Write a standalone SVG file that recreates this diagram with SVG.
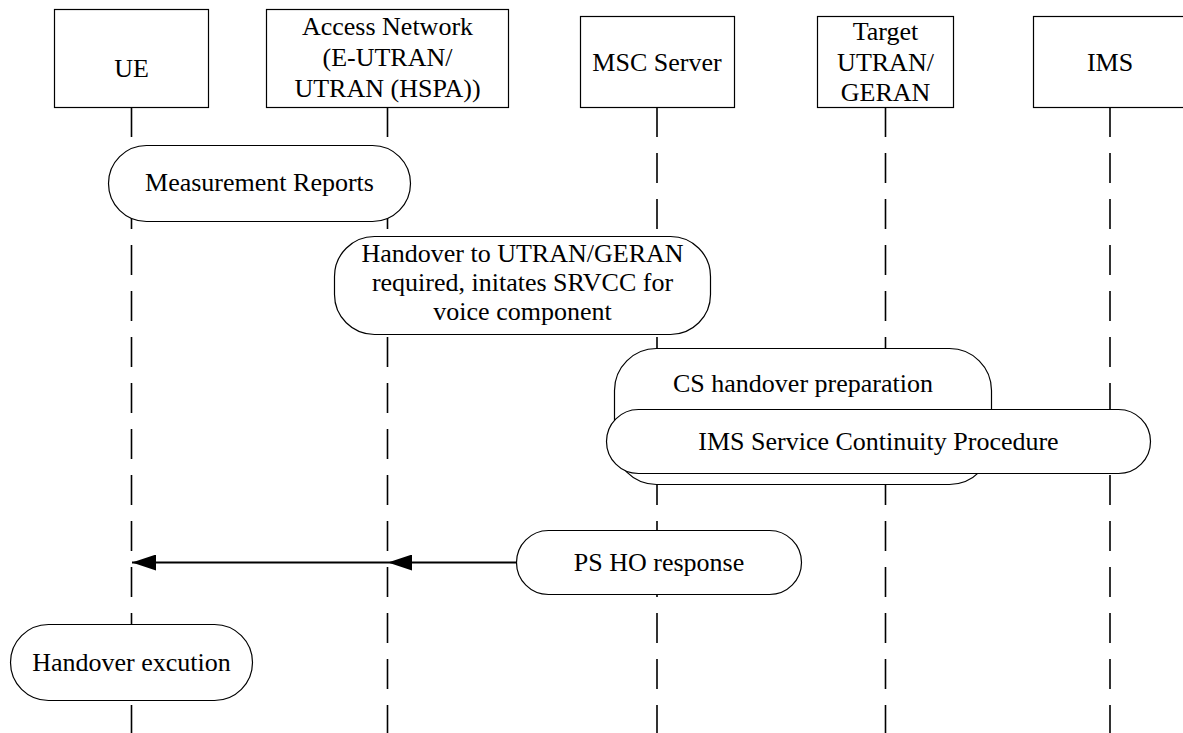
<svg xmlns="http://www.w3.org/2000/svg" width="1183" height="733" viewBox="0 0 1183 733">
  <style>
    .box { fill: #ffffff; stroke: #000000; stroke-width: 1.2; }
    .life { stroke: #000000; stroke-width: 1.6; stroke-dasharray: 30 16; fill: none; }
    .t { font-family: 'Liberation Serif', 'Tinos', 'Times New Roman', 'DejaVu Serif', serif; font-size: 26px; fill: #000000; text-anchor: middle; }
    .msg { stroke: #000000; stroke-width: 2; fill: none; }
  </style>
  <defs>
    <marker id="arrow" viewBox="0 0 24 16" refX="24" refY="8" markerWidth="24" markerHeight="16" orient="auto" markerUnits="userSpaceOnUse">
      <path d="M0,0 L24,8 L0,16 z" fill="#000000"/>
    </marker>
  </defs>
  <rect width="1183" height="733" fill="#ffffff"/>

  <g id="lifelines">
    <line class="life" x1="131.5" y1="107" x2="131.5" y2="733"/>
    <line class="life" x1="387.5" y1="107" x2="387.5" y2="733"/>
    <line class="life" x1="657" y1="107" x2="657" y2="733"/>
    <line class="life" x1="885.5" y1="107" x2="885.5" y2="733"/>
    <line class="life" x1="1110" y1="107" x2="1110" y2="733"/>
  </g>

  <g id="ue">
    <rect class="box" x="54.5" y="9.5" width="154" height="98"/>
    <text class="t" x="131.5" y="77" font-family="Liberation Serif, serif">UE</text>
  </g>
  <g id="access-network">
    <rect class="box" x="266.5" y="9.5" width="242" height="98"/>
    <text class="t" x="387.5" y="35">Access Network</text>
    <text class="t" x="387.5" y="66">(E-UTRAN/</text>
    <text class="t" x="387.5" y="97">UTRAN (HSPA))</text>
  </g>
  <g id="msc-server">
    <rect class="box" x="580.5" y="16.5" width="154" height="91"/>
    <text class="t" x="657" y="71">MSC Server</text>
  </g>
  <g id="target">
    <rect class="box" x="817.5" y="16.5" width="136" height="91"/>
    <text class="t" x="885.5" y="40">Target</text>
    <text class="t" x="885.5" y="71">UTRAN/</text>
    <text class="t" x="885.5" y="101">GERAN</text>
  </g>
  <g id="ims">
    <rect class="box" x="1033.5" y="16.5" width="160" height="91"/>
    <text class="t" x="1110" y="71">IMS</text>
  </g>

  <g id="measurement-reports">
    <rect class="box" x="108.5" y="145.5" width="302" height="76" rx="38" ry="38"/>
    <text class="t" x="259.5" y="191">Measurement Reports</text>
  </g>
  <g id="handover-required">
    <rect class="box" x="334.5" y="236.5" width="376" height="98" rx="40" ry="40"/>
    <text class="t" x="522.5" y="262">Handover to UTRAN/GERAN</text>
    <text class="t" x="522.5" y="291">required, initates SRVCC for</text>
    <text class="t" x="522.5" y="320">voice component</text>
  </g>
  <g id="cs-handover-preparation">
    <rect class="box" x="614.5" y="348.5" width="377" height="136" rx="42" ry="42"/>
    <text class="t" x="803" y="392">CS handover preparation</text>
  </g>
  <g id="ims-service-continuity">
    <rect class="box" x="606.5" y="409.5" width="544" height="64" rx="32" ry="32"/>
    <text class="t" x="878.5" y="450">IMS Service Continuity Procedure</text>
  </g>
  <g id="ps-ho-response">
    <rect class="box" x="516.5" y="530.5" width="285" height="64" rx="32" ry="32"/>
    <text class="t" x="659" y="571">PS HO response</text>
  </g>
  <g id="handover-execution">
    <rect class="box" x="10.5" y="624.5" width="242" height="76" rx="38" ry="38"/>
    <text class="t" x="131.5" y="671">Handover excution</text>
  </g>

  <g id="connectors">
    <line class="msg" x1="516.5" y1="562.5" x2="388" y2="562.5" marker-end="url(#arrow)"/>
    <line class="msg" x1="388" y1="562.5" x2="132" y2="562.5" marker-end="url(#arrow)"/>
  </g>
</svg>
